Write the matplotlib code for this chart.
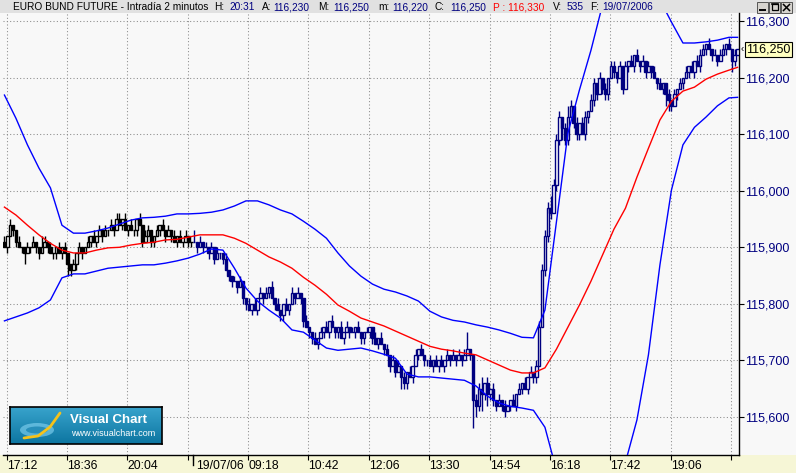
import matplotlib
matplotlib.use('Agg')
import matplotlib.pyplot as plt
import matplotlib.transforms as mtrans
from matplotlib.patches import Rectangle, Ellipse
from matplotlib.lines import Line2D
import numpy as np

plt.rcParams['font.family'] = ['Liberation Sans', 'DejaVu Sans']

W, H = 796, 473

# ---------------- data (prices in hundredths above 115.00) ----------------
closes = [
    90, 92, 94, 93, 91, 90, 90, 89, 90, 90,
    91, 90, 89, 90, 91, 90, 89, 89, 90, 89,
    90, 89, 87, 86, 87, 89, 90, 89, 90, 91,
    92, 91, 92, 93, 92, 93, 93, 94, 93, 95,
    94, 95, 93, 94, 93, 93, 95, 94, 91, 92,
    93, 91, 92, 93, 94, 93, 92, 93, 92, 91,
    92, 91, 91, 92, 91, 91, 91, 90, 91, 90,
    90, 89, 90, 88, 89, 89, 88, 86, 85, 84,
    84, 83, 84, 81, 80, 79, 80, 79, 81, 82,
    81, 82, 83, 81, 80, 79, 78, 80, 79, 80,
    82, 81, 82, 81, 77, 76, 75, 74, 73, 74,
    75, 76, 75, 77, 76, 75, 76, 74, 75, 76,
    75, 75, 76, 75, 74, 75, 75, 76, 74, 73,
    74, 73, 72, 71, 69, 70, 68, 69, 67, 66,
    68, 67, 69, 71, 72, 71, 70, 70, 69, 70,
    69, 70, 69, 70, 71, 70, 71, 70, 71, 70,
    71, 72, 71, 63, 62, 65, 64, 66, 64, 65,
    63, 62, 63, 62, 61, 62, 63, 62, 64, 65,
    66, 65, 67, 68, 67, 69, 76, 86, 92, 97,
    96, 101, 109, 113, 111, 109, 113, 115, 112, 110,
    112, 110, 113, 114, 116, 119, 117, 120, 118, 117,
    120, 122, 121, 120, 122, 118, 122, 123, 122, 124,
    123, 122, 123, 121, 122, 121, 120, 119, 118, 119,
    117, 116, 115, 117, 118, 119, 120, 121, 122, 121,
    123, 122, 124, 125, 126, 125, 124, 124, 123, 124,
    125, 126, 125, 123, 124, 125,
]
opens = [
    91, 90, 92, 94, 93, 91, 90, 90, 89, 90,
    90, 91, 90, 89, 90, 91, 90, 89, 89, 90,
    89, 90, 89, 87, 86, 87, 89, 90, 89, 90,
    91, 92, 91, 92, 93, 92, 93, 93, 94, 93,
    95, 94, 95, 93, 94, 93, 93, 95, 94, 91,
    92, 93, 91, 92, 93, 94, 93, 92, 93, 92,
    91, 92, 91, 91, 92, 91, 91, 91, 90, 91,
    90, 90, 89, 90, 88, 89, 89, 88, 86, 85,
    84, 84, 83, 84, 81, 80, 79, 80, 79, 81,
    82, 81, 82, 83, 81, 80, 79, 78, 80, 79,
    80, 82, 81, 82, 81, 77, 76, 75, 74, 73,
    74, 75, 76, 75, 77, 76, 75, 76, 74, 75,
    76, 75, 75, 76, 75, 74, 75, 75, 76, 74,
    73, 74, 73, 72, 71, 69, 70, 68, 69, 67,
    66, 68, 67, 69, 71, 72, 71, 70, 70, 69,
    70, 69, 70, 69, 70, 71, 70, 71, 70, 71,
    70, 71, 72, 71, 63, 62, 65, 64, 66, 64,
    65, 63, 62, 63, 62, 61, 62, 63, 62, 64,
    65, 66, 65, 67, 68, 67, 69, 76, 86, 92,
    97, 96, 101, 109, 113, 111, 109, 113, 115, 112,
    110, 112, 110, 113, 114, 116, 119, 117, 120, 118,
    117, 120, 122, 121, 120, 122, 118, 122, 123, 122,
    124, 123, 122, 123, 121, 122, 121, 120, 119, 118,
    119, 117, 116, 115, 117, 118, 119, 120, 121, 122,
    121, 123, 122, 124, 125, 126, 125, 124, 124, 123,
    124, 125, 126, 125, 123, 124,
]
# wick length above/below the body, in ticks
hi_ext = [
    1, 0, 1, 0, 0, 1, 0, 0, 1, 0,
    1, 0, 0, 2, 1, 0, 1, 0, 0, 1,
    0, 1, 0, 0, 1, 0, 1, 0, 0, 1,
    0, 1, 0, 1, 0, 1, 0, 1, 0, 1,
    1, 0, 1, 0, 1, 0, 0, 1, 0, 1,
    1, 0, 0, 1, 0, 1, 0, 1, 0, 1,
    0, 1, 0, 1, 0, 0, 2, 0, 1, 0,
    1, 0, 1, 0, 1, 0, 0, 1, 0, 0,
    1, 0, 1, 0, 0, 1, 0, 1, 0, 1,
    0, 1, 0, 1, 0, 1, 0, 0, 1, 0,
    1, 0, 1, 0, 0, 1, 0, 0, 1, 0,
    1, 0, 1, 0, 1, 0, 0, 1, 0, 1,
    0, 1, 0, 1, 0, 0, 1, 0, 0, 1,
    0, 1, 0, 1, 0, 1, 0, 1, 0, 1,
    0, 1, 0, 1, 0, 1, 0, 0, 1, 0,
    1, 0, 1, 0, 1, 0, 1, 0, 1, 0,
    1, 3, 0, 0, 1, 1, 2, 0, 1, 0,
    1, 0, 1, 0, 1, 0, 0, 1, 0, 1,
    0, 1, 0, 1, 0, 1, 1, 1, 1, 1,
    2, 1, 1, 1, 0, 1, 2, 1, 0, 1,
    0, 1, 1, 0, 1, 1, 0, 1, 0, 1,
    0, 1, 1, 0, 1, 0, 1, 0, 1, 0,
    1, 0, 1, 0, 1, 0, 1, 0, 1, 0,
    0, 1, 0, 1, 0, 1, 0, 1, 0, 1,
    0, 1, 1, 1, 0, 1, 0, 1, 0, 1,
    1, 0, 1, 0, 1, 0,
]
lo_ext = [
    0, 1, 0, 1, 1, 0, 1, 2, 0, 1,
    0, 1, 1, 0, 0, 1, 0, 1, 1, 0,
    1, 0, 2, 1, 0, 1, 0, 1, 0, 0,
    1, 0, 1, 0, 1, 0, 1, 0, 1, 0,
    0, 1, 0, 1, 0, 1, 1, 0, 1, 0,
    0, 1, 1, 0, 1, 0, 1, 0, 1, 0,
    1, 0, 1, 0, 1, 1, 0, 1, 0, 1,
    0, 1, 0, 1, 0, 1, 1, 0, 1, 1,
    0, 1, 0, 1, 1, 0, 1, 0, 1, 0,
    1, 0, 1, 0, 1, 0, 1, 1, 0, 1,
    0, 1, 0, 1, 1, 0, 1, 1, 0, 1,
    0, 1, 0, 1, 0, 1, 1, 0, 1, 0,
    1, 0, 1, 0, 1, 1, 0, 1, 1, 0,
    1, 0, 1, 0, 1, 0, 1, 0, 2, 1,
    1, 0, 1, 0, 1, 0, 1, 1, 0, 1,
    0, 1, 0, 1, 0, 1, 0, 1, 0, 1,
    0, 0, 1, 5, 2, 1, 3, 1, 2, 1,
    1, 1, 0, 1, 1, 0, 1, 0, 1, 0,
    1, 0, 1, 0, 1, 1, 0, 0, 1, 1,
    1, 0, 1, 1, 2, 1, 1, 0, 1, 1,
    1, 0, 1, 1, 0, 1, 1, 0, 1, 1,
    1, 0, 1, 1, 0, 1, 0, 1, 0, 1,
    0, 1, 0, 1, 0, 1, 0, 1, 0, 1,
    2, 2, 1, 0, 1, 0, 1, 0, 1, 0,
    1, 0, 1, 0, 1, 0, 1, 0, 1, 0,
    0, 1, 0, 2, 1, 0,
]
day2_start = 66          # first bar of 19/07/06

# indicator lines sampled at bar indices
ind_idx = [0, 4, 8, 12, 16, 20, 24, 28, 32, 36, 40, 44, 48, 52, 56, 60, 64,
           68, 72, 76, 80, 84, 88, 92, 96, 100, 104, 108, 112, 116, 120, 124,
           128, 132, 136, 140, 144, 148, 152, 156, 160, 164, 168, 172, 176,
           180, 184, 188, 192, 196, 200, 204, 208, 212, 216, 220, 224, 228,
           232, 236, 240, 244, 248, 252, 255]
moving_avg = [115.971, 115.957, 115.939, 115.922, 115.907, 115.895, 115.890,
              115.890, 115.895, 115.899, 115.900, 115.904, 115.907, 115.909,
              115.913, 115.914, 115.918, 115.922, 115.922, 115.922, 115.916,
              115.907, 115.895, 115.883, 115.874, 115.863, 115.847, 115.833,
              115.817, 115.798, 115.787, 115.775, 115.768, 115.761, 115.752,
              115.743, 115.734, 115.725, 115.720, 115.717, 115.713, 115.710,
              115.701, 115.692, 115.683, 115.678, 115.678, 115.687, 115.720,
              115.759, 115.798, 115.840, 115.886, 115.932, 115.969, 116.024,
              116.075, 116.125, 116.158, 116.176, 116.183, 116.197, 116.206,
              116.213, 116.218]
upper_band = [116.169, 116.128, 116.081, 116.040, 116.005, 115.939, 115.925,
              115.925, 115.929, 115.934, 115.941, 115.948, 115.952, 115.953,
              115.955, 115.959, 115.959, 115.960, 115.962, 115.966, 115.973,
              115.982, 115.982, 115.975, 115.966, 115.959, 115.946, 115.932,
              115.916, 115.890, 115.867, 115.849, 115.835, 115.826, 115.821,
              115.814, 115.805, 115.787, 115.777, 115.771, 115.768, 115.763,
              115.759, 115.754, 115.748, 115.741, 115.740, 115.789, 115.945,
              116.102, 116.178, 116.248, 116.328, 116.363, 116.381, 116.381,
              116.363, 116.337, 116.298, 116.261, 116.261, 116.263, 116.266,
              116.271, 116.271]
lower_band = [115.770, 115.777, 115.784, 115.793, 115.807, 115.846, 115.853,
              115.853, 115.858, 115.863, 115.865, 115.867, 115.869, 115.869,
              115.872, 115.876, 115.881, 115.888, 115.897, 115.895, 115.863,
              115.828, 115.805, 115.789, 115.775, 115.754, 115.750, 115.736,
              115.722, 115.718, 115.720, 115.722, 115.717, 115.711, 115.704,
              115.676, 115.671, 115.671, 115.669, 115.667, 115.665, 115.655,
              115.637, 115.625, 115.619, 115.616, 115.612, 115.582, 115.506,
              115.400, 115.347, 115.347, 115.383, 115.453, 115.520, 115.595,
              115.710, 115.869, 116.001, 116.081, 116.112, 116.130, 116.150,
              116.164, 116.165]

y_ticks = [115.6, 115.7, 115.8, 115.9, 116.0, 116.1, 116.2, 116.3]
y_labels = ['115,600', '115,700', '115,800', '115,900', '116,000',
            '116,100', '116,200', '116,300']
x_grid_pos = [0.89, 21.8, 42.7, 63.85, 84.75, 105.65, 126.8, 147.7, 168.9,
              189.8, 210.7, 231.9, 252.7]
x_grid_labels = ['17:12', '18:36', '20:04', '', '09:18', '10:42', '12:06',
                 '13:30', '14:54', '16:18', '17:42', '19:06', '']
day_break_pos = 65.6
day_break_label = '19/07/06'
last_price = 116.25
last_price_label = '116,250'

title_parts = [
    (13, 'EURO BUND FUTURE - Intradía 2 minutos', 'black'),
    (214, 'H:', 'black'), (229, '20:31', '#000080'),
    (262, 'A:', 'black'), (273, '116,230', '#000080'),
    (318, 'M:', 'black'), (333, '116,250', '#000080'),
    (378, 'm:', 'black'), (392, '116,220', '#000080'),
    (435, 'C:', 'black'), (450, '116,250', '#000080'),
    (493, 'P : 116,330', '#ff0000'),
    (553, 'V:', 'black'), (567, '535', '#000080'),
    (590, 'F:', 'black'), (602, '19/07/2006', '#000080'),
]

# ---------------- figure ----------------
fig = plt.figure(figsize=(W / 100, H / 100), dpi=100)
fig.patch.set_facecolor('#f6f6d6')


def fx(x):
    return x / W


def fy(y):
    return 1 - y / H


# title bar, chart area, right scale panel
fig.add_artist(Rectangle((0, fy(13)), 1, 13 / H, transform=fig.transFigure,
                         facecolor='#e1e1e1', edgecolor='none', zorder=0))
fig.add_artist(Rectangle((0, fy(455)), 1, 442 / H, transform=fig.transFigure,
                         facecolor='#f8f8f8', edgecolor='none', zorder=0))

ax = fig.add_axes([fx(3), 18 / H, 736 / W, 442 / H])
ax.set_facecolor('#f8f8f8')
ax.set_xlim(-0.5, len(closes) - 0.5)
ax.set_ylim(115.533, 116.314)

# grid
for yv in y_ticks:
    ax.axhline(yv, color='#8a8a8a', lw=0.75, ls=(0, (1, 2.2)), zorder=1)
for xv in x_grid_pos:
    ax.axvline(xv, color='#8a8a8a', lw=0.75, ls=(0, (1, 2.2)), zorder=1)

# candles
o = np.array(opens) / 100 + 115.0
c = np.array(closes) / 100 + 115.0
hi = np.maximum(np.array(opens), np.array(closes)) / 100 + 115.0 + np.array(hi_ext) / 100
lo = np.minimum(np.array(opens), np.array(closes)) / 100 + 115.0 - np.array(lo_ext) / 100
xs = np.arange(len(closes))
cols = ['#000000' if i < day2_start else '#000080' for i in xs]
ax.vlines(xs, lo, hi, colors=cols, lw=1.0, zorder=3)
for i in xs:
    up = c[i] >= o[i]
    ax.add_patch(Rectangle((i - 0.42, min(o[i], c[i])), 0.84, abs(c[i] - o[i]),
                           facecolor='#ffffff' if up else cols[i],
                           edgecolor=cols[i], lw=1.0, zorder=4))

# indicators
ax.plot(ind_idx, upper_band, color='#0000ff', lw=1.0, zorder=5)
ax.plot(ind_idx, lower_band, color='#0000ff', lw=1.0, zorder=5)
ax.plot(ind_idx, moving_avg, color='#ff0000', lw=1.0, zorder=6)

# axes styling
for s in ['left', 'top']:
    ax.spines[s].set_visible(False)
for s in ['right', 'bottom']:
    ax.spines[s].set_color('black')
    ax.spines[s].set_linewidth(1.0)
ax.yaxis.tick_right()
ax.set_yticks(y_ticks)
ax.set_yticklabels(y_labels)
ax.tick_params(axis='y', direction='out', length=3.6, width=0.8, color='black',
               labelcolor='#000080', labelsize=9, pad=1)
ax.set_xticks(x_grid_pos + [day_break_pos])
ax.set_xticklabels(x_grid_labels + [''])
for lab in ax.get_xticklabels():
    lab.set_horizontalalignment('left')
ax.tick_params(axis='x', direction='out', length=3.6, width=0.8, color='black',
               labelcolor='black', labelsize=8.8, pad=0)

# day separator: longer tick with date label
bt = mtrans.blended_transform_factory(ax.transData, fig.transFigure)
fig.add_artist(Line2D([day_break_pos, day_break_pos], [fy(455), fy(465)],
                      transform=bt, color='black', lw=1.0))
fig.text(day_break_pos + 1.0, fy(465.5), day_break_label, transform=bt,
         ha='left', va='center', fontsize=8.8, color='black')

# last price marker
bt2 = mtrans.blended_transform_factory(fig.transFigure, ax.transData)
fig.text(fx(746), last_price, last_price_label, transform=bt2, ha='left',
         va='center', fontsize=9, color='black',
         bbox=dict(boxstyle='square,pad=0.12', facecolor='#ffffc0',
                   edgecolor='black', lw=0.8))
fig.text(fx(741), last_price, '‹', transform=bt2, ha='left', va='center',
         fontsize=7, color='black')

# title
for xp, txt, col in title_parts:
    fig.text(fx(xp), fy(7), txt, ha='left', va='center', fontsize=7.3,
             color=col)

# window buttons
for bx in [757, 769, 781]:
    fig.add_artist(Rectangle((fx(bx), fy(13)), 11 / W, 11 / H,
                             transform=fig.transFigure, facecolor='#d6d3ce',
                             edgecolor='#404040', lw=0.6))
fig.add_artist(Line2D([fx(760), fx(765)], [fy(10.5), fy(10.5)],
                      transform=fig.transFigure, color='black', lw=1.4))
fig.add_artist(Rectangle((fx(771.5), fy(10.5)), 6 / W, 6 / H,
                         transform=fig.transFigure, facecolor='none',
                         edgecolor='black', lw=0.9))
fig.add_artist(Line2D([fx(772), fx(778)], [fy(4.5), fy(4.5)],
                      transform=fig.transFigure, color='black', lw=1.2))
fig.add_artist(Line2D([fx(783.5), fx(789.5)], [fy(4.5), fy(10.5)],
                      transform=fig.transFigure, color='black', lw=1.1))
fig.add_artist(Line2D([fx(783.5), fx(789.5)], [fy(10.5), fy(4.5)],
                      transform=fig.transFigure, color='black', lw=1.1))

# Visual Chart logo
lax = fig.add_axes([fx(10), fy(444), 152 / W, 37 / H], zorder=10)
grad = np.linspace(0, 1, 64).reshape(-1, 1)
top = np.array([0.22, 0.64, 0.80])
bot = np.array([0.05, 0.46, 0.63])
img = top[None, None, :] * (1 - grad[:, :, None]) + bot[None, None, :] * grad[:, :, None]
lax.imshow(img, aspect='auto', extent=[0, 152, 37, 0])
lax.set_xlim(0, 152)
lax.set_ylim(37, 0)
lax.set_xticks([])
lax.set_yticks([])
for s in lax.spines.values():
    s.set_color('black')
    s.set_linewidth(1.2)
lax.add_patch(Ellipse((27, 23), 34, 14, facecolor='#8fdcfa', alpha=0.55,
                      edgecolor='none'))
lax.add_patch(Ellipse((27, 23), 22, 7, facecolor='#1b86b3', alpha=0.8,
                      edgecolor='none'))
lax.plot([14, 28, 40, 50], [31, 29, 20, 6], color='#f5c21a', lw=2.0,
         solid_capstyle='round')
lax.text(60, 12.5, 'Visual Chart', color='white', fontsize=9.5,
         fontweight='bold', ha='left', va='center')
lax.text(61, 26.5, 'www.visualchart.com', color='white', fontsize=6.5,
         ha='left', va='center')

fig.savefig('out.png', dpi=100, facecolor=fig.get_facecolor())
